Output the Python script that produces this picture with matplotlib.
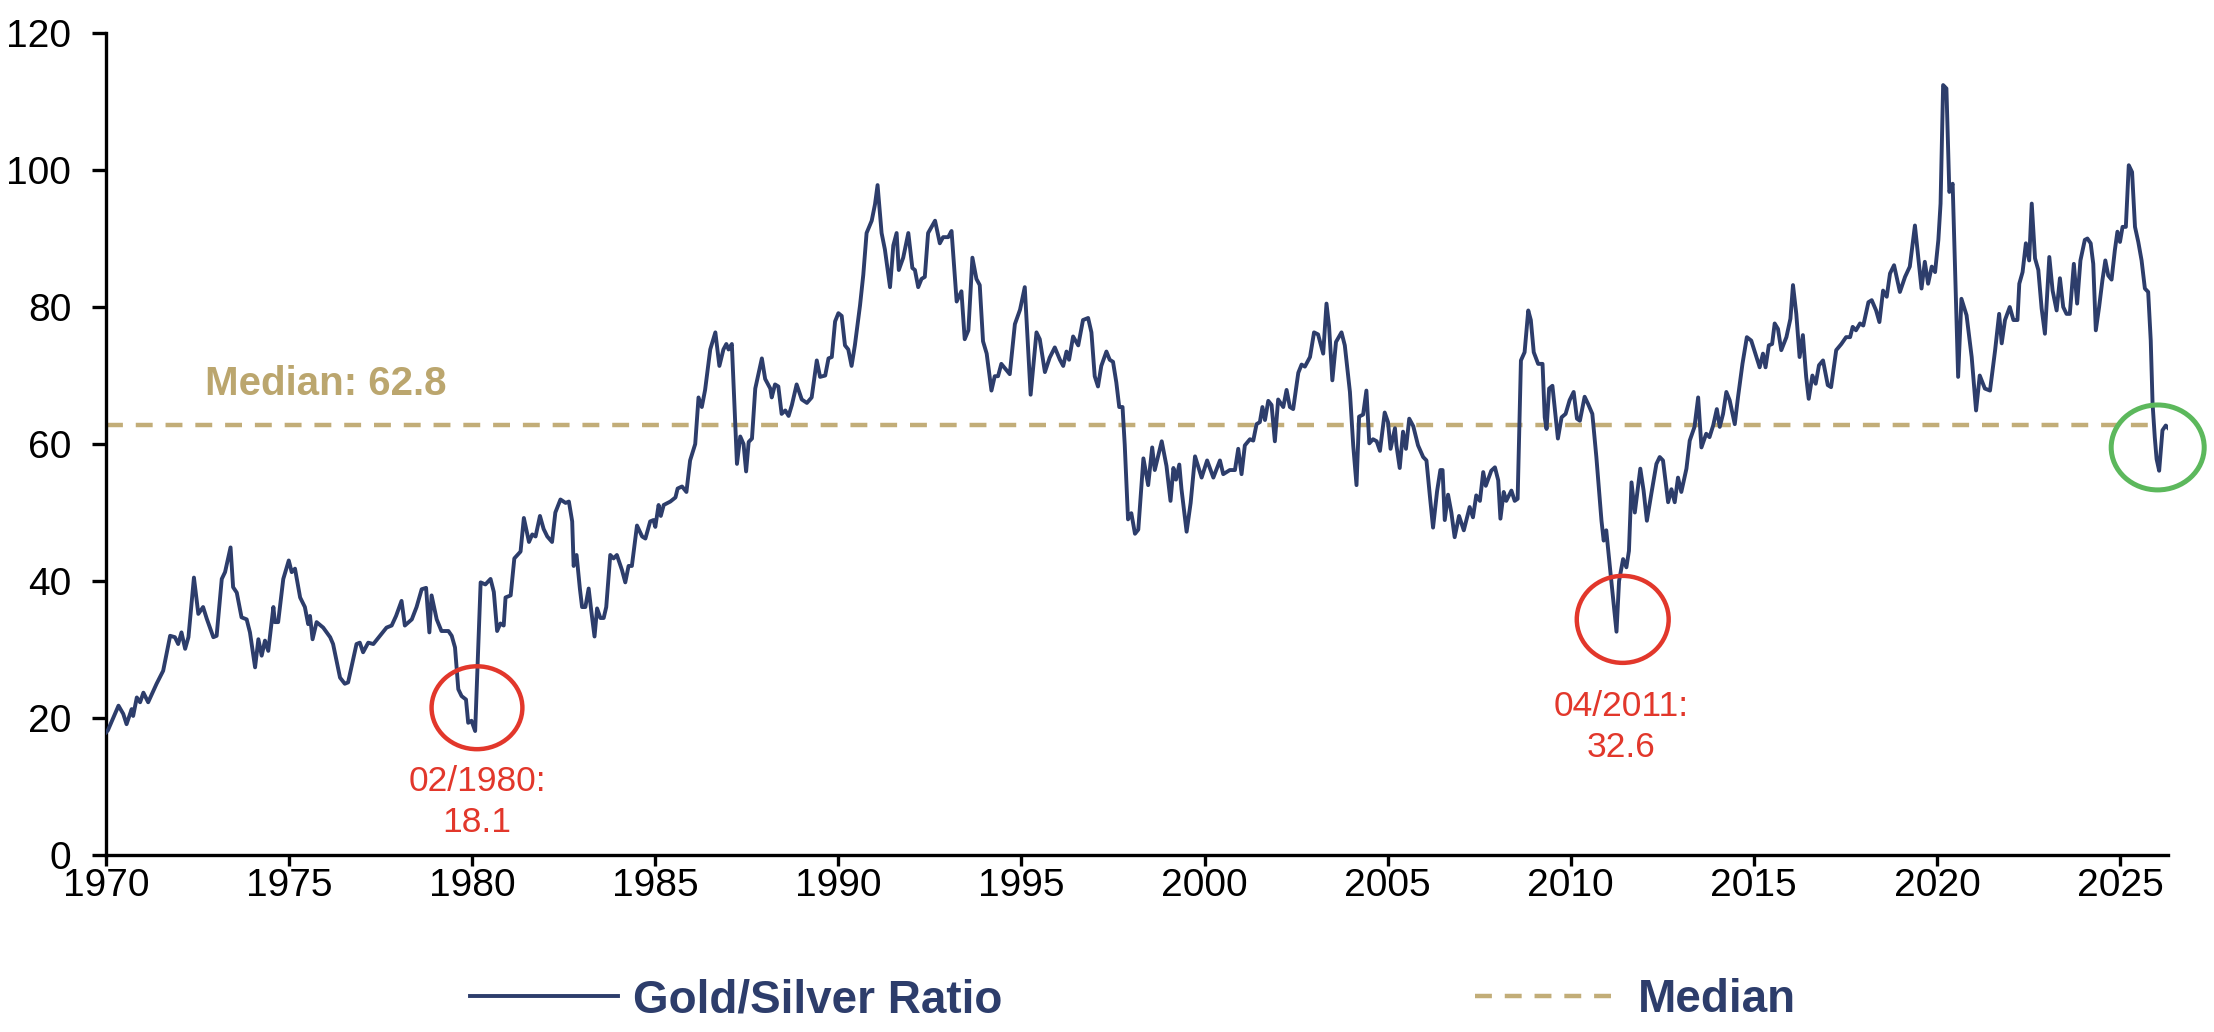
import matplotlib
matplotlib.use("Agg")
import matplotlib.pyplot as plt
from matplotlib.patches import Ellipse

# ---------------- data ----------------
dates = [
    1970.00, 1970.05, 1970.34, 1970.47, 1970.56, 1970.70, 1970.74, 1970.84, 1970.93, 1971.02,
    1971.15, 1971.38, 1971.56, 1971.75, 1971.88, 1971.97, 1972.06, 1972.16, 1972.25, 1972.40,
    1972.52, 1972.65, 1972.75, 1972.93, 1973.02, 1973.16, 1973.25, 1973.40, 1973.47, 1973.57,
    1973.70, 1973.84, 1973.93, 1974.07, 1974.16, 1974.25, 1974.34, 1974.43, 1974.57, 1974.61,
    1974.70, 1974.84, 1974.99, 1975.07, 1975.16, 1975.30, 1975.43, 1975.52, 1975.57, 1975.64,
    1975.75, 1975.93, 1976.12, 1976.20, 1976.39, 1976.52, 1976.61, 1976.75, 1976.84, 1976.93,
    1977.02, 1977.16, 1977.30, 1977.48, 1977.66, 1977.80, 1977.92, 1978.07, 1978.16, 1978.35,
    1978.48, 1978.62, 1978.74, 1978.83, 1978.89, 1979.03, 1979.16, 1979.35, 1979.44, 1979.53,
    1979.62, 1979.71, 1979.83, 1979.89, 1979.98, 1980.08,
    1980.23, 1980.36, 1980.50, 1980.59, 1980.68, 1980.77, 1980.86, 1980.91, 1981.05, 1981.15,
    1981.32, 1981.41, 1981.55, 1981.64, 1981.73, 1981.85, 1981.95, 1982.05, 1982.18, 1982.27,
    1982.41, 1982.55, 1982.64, 1982.73, 1982.77, 1982.85, 1982.94, 1983.00, 1983.09, 1983.18,
    1983.25, 1983.34, 1983.41, 1983.50, 1983.59, 1983.66, 1983.77, 1983.86, 1983.95, 1984.09,
    1984.18, 1984.27, 1984.36, 1984.50, 1984.64, 1984.73, 1984.86, 1984.95, 1985.00, 1985.09,
    1985.15, 1985.23, 1985.41, 1985.55, 1985.61, 1985.73, 1985.85, 1985.95, 1986.09, 1986.18,
    1986.27, 1986.36, 1986.50, 1986.64, 1986.75, 1986.86, 1986.94, 1987.00, 1987.09, 1987.23,
    1987.32, 1987.41, 1987.48, 1987.55, 1987.64, 1987.73, 1987.91, 1988.00, 1988.14, 1988.18,
    1988.27, 1988.36, 1988.45, 1988.55, 1988.64, 1988.73, 1988.86, 1989.00, 1989.14, 1989.27,
    1989.41, 1989.50, 1989.64, 1989.73, 1989.82, 1989.91, 1990.00,
    1990.09, 1990.18, 1990.27, 1990.36, 1990.45, 1990.59, 1990.68, 1990.77, 1990.91, 1991.00,
    1991.07, 1991.18, 1991.27, 1991.41, 1991.50, 1991.59, 1991.65, 1991.77, 1991.91, 1992.02,
    1992.09, 1992.18, 1992.27, 1992.36, 1992.45, 1992.64, 1992.77, 1992.86, 1993.00, 1993.09,
    1993.23, 1993.36, 1993.45, 1993.55, 1993.66, 1993.77, 1993.86, 1993.95, 1994.05, 1994.18,
    1994.27, 1994.36, 1994.45, 1994.68, 1994.82, 1994.96, 1995.09, 1995.25, 1995.41, 1995.50,
    1995.64, 1995.77, 1995.91, 1996.05, 1996.14, 1996.23, 1996.30, 1996.41, 1996.55, 1996.68,
    1996.82, 1996.91, 1997.00, 1997.09, 1997.18, 1997.32, 1997.41, 1997.50, 1997.59, 1997.67,
    1997.76, 1997.82, 1997.91, 1998.00, 1998.10, 1998.19, 1998.33, 1998.46, 1998.57, 1998.64,
    1998.83, 1998.96, 1999.07, 1999.15, 1999.22, 1999.31, 1999.37, 1999.51, 1999.62, 1999.74,
    1999.92, 2000.07, 2000.24, 2000.42, 2000.51, 2000.69, 2000.83, 2000.92, 2001.01, 2001.10,
    2001.24, 2001.33, 2001.42, 2001.51, 2001.58, 2001.65, 2001.74, 2001.83, 2001.92, 2002.01,
    2002.15, 2002.24, 2002.33, 2002.42, 2002.56, 2002.65, 2002.74, 2002.88, 2002.99, 2003.10,
    2003.24, 2003.33, 2003.40, 2003.49, 2003.59, 2003.74, 2003.83, 2003.97, 2004.06, 2004.15,
    2004.22, 2004.33, 2004.42, 2004.50, 2004.60, 2004.70, 2004.79, 2004.92, 2005.01, 2005.08,
    2005.20, 2005.24, 2005.33, 2005.42, 2005.50, 2005.59, 2005.70, 2005.83, 2005.97, 2006.06,
    2006.15, 2006.24, 2006.35, 2006.44, 2006.50, 2006.56, 2006.65, 2006.74, 2006.83, 2006.95,
    2007.08, 2007.24, 2007.33, 2007.42, 2007.52, 2007.61, 2007.68, 2007.83, 2007.93, 2008.02,
    2008.08, 2008.17, 2008.24, 2008.38, 2008.47, 2008.55, 2008.64, 2008.74, 2008.84, 2008.91,
    2008.99, 2009.11, 2009.23, 2009.29, 2009.34, 2009.41, 2009.50, 2009.65, 2009.75, 2009.86,
    2009.97, 2010.08, 2010.17, 2010.25, 2010.38, 2010.47, 2010.59, 2010.70, 2010.84, 2010.90,
    2010.97, 2011.08, 2011.25, 2011.32, 2011.43, 2011.52, 2011.59, 2011.66, 2011.75, 2011.90,
    2011.99, 2012.08, 2012.20, 2012.34, 2012.43, 2012.52, 2012.66, 2012.75, 2012.84, 2012.93,
    2013.02, 2013.16, 2013.25, 2013.38, 2013.48, 2013.57, 2013.70, 2013.79, 2013.89, 2013.99,
    2014.07, 2014.16, 2014.25, 2014.34, 2014.48, 2014.57, 2014.69, 2014.81, 2014.93, 2015.07,
    2015.16, 2015.25, 2015.32, 2015.41, 2015.50, 2015.57, 2015.66, 2015.75, 2015.89, 2016.00,
    2016.07, 2016.16, 2016.25, 2016.34, 2016.43, 2016.50, 2016.60, 2016.69, 2016.78, 2016.89,
    2017.02, 2017.11, 2017.25, 2017.39, 2017.52, 2017.63, 2017.70, 2017.79, 2017.90, 2017.99,
    2018.13, 2018.22, 2018.34, 2018.43, 2018.53, 2018.63, 2018.72, 2018.83, 2018.99, 2019.13,
    2019.26, 2019.40, 2019.49, 2019.58, 2019.67, 2019.76, 2019.86, 2019.95, 2020.04, 2020.10,
    2020.17, 2020.26, 2020.34, 2020.43, 2020.58, 2020.67, 2020.81, 2020.95, 2021.07, 2021.17,
    2021.31, 2021.45, 2021.59, 2021.70, 2021.77, 2021.86, 2021.99, 2022.09, 2022.20, 2022.25,
    2022.34, 2022.43, 2022.52, 2022.59, 2022.68, 2022.77, 2022.86, 2022.95, 2023.07, 2023.16,
    2023.27, 2023.36, 2023.45, 2023.54, 2023.63, 2023.74, 2023.83, 2023.92, 2024.04, 2024.11,
    2024.20, 2024.27, 2024.34, 2024.43, 2024.52, 2024.60, 2024.68, 2024.77, 2024.86, 2024.93,
    2025.00, 2025.07, 2025.16, 2025.24, 2025.33, 2025.41, 2025.50, 2025.59, 2025.68, 2025.77,
    2025.84, 2025.89, 2025.95, 2026.00, 2026.07, 2026.16, 2026.25, 2026.34,
]
ratio = [
    17.9, 18.2, 21.8, 20.6, 19.1, 21.3, 20.3, 23.0, 22.3, 23.7,
    22.3, 25.0, 26.9, 32.0, 31.8, 30.8, 32.5, 30.1, 31.8, 40.5,
    35.2, 36.2, 34.5, 31.8, 32.0, 40.3, 41.3, 44.9, 39.1, 38.3,
    34.7, 34.4, 32.5, 27.4, 31.5, 29.1, 31.3, 29.8, 36.2, 34.0,
    34.0, 40.3, 43.0, 41.3, 41.8, 37.6, 36.2, 33.7, 34.9, 31.5,
    34.0, 33.2, 31.8, 30.8, 25.9, 25.0, 25.2, 28.6, 30.8, 31.0,
    29.6, 31.0, 30.8, 32.0, 33.2, 33.5, 34.9, 37.1, 33.5, 34.4,
    36.2, 38.8, 39.0, 32.5, 37.9, 34.4, 32.7, 32.7, 32.0, 30.3,
    24.2, 23.2, 22.7, 19.3, 19.6, 18.1,
    39.8, 39.5, 40.3, 38.4, 32.7, 33.8, 33.5, 37.6, 37.9, 43.3,
    44.3, 49.2, 45.7, 46.8, 46.5, 49.5, 47.6, 46.5, 45.7, 50.0,
    51.9, 51.4, 51.6, 48.7, 42.2, 43.8, 38.9, 36.2, 36.2, 38.9,
    35.7, 31.9, 36.0, 34.6, 34.6, 36.2, 43.8, 43.3, 43.8, 41.6,
    39.8, 42.2, 42.2, 48.1, 46.5, 46.2, 48.7, 48.9, 47.9, 51.1,
    49.5, 51.1, 51.6, 52.2, 53.5, 53.8, 53.0, 57.6, 60.0, 66.8,
    65.4, 67.9, 73.8, 76.3, 71.4, 73.8, 74.6, 73.8, 74.6, 57.1,
    61.1, 60.0, 56.0, 60.3, 60.8, 68.1, 72.5, 69.5, 68.1, 66.8,
    68.7, 68.4, 64.4, 64.9, 64.1, 65.7, 68.7, 66.5, 66.0, 66.8,
    72.2, 69.8, 70.0, 72.5, 72.7, 77.9, 79.1,
    78.7, 74.4, 73.8, 71.4, 74.4, 80.2, 84.7, 90.8, 92.6, 95.0,
    97.8, 90.8, 88.4, 82.9, 89.0, 90.8, 85.4, 87.2, 90.8, 85.7,
    85.4, 82.9, 84.1, 84.4, 90.8, 92.6, 89.3, 90.2, 90.2, 91.1,
    80.8, 82.3, 75.3, 76.6, 87.2, 84.1, 83.2, 75.0, 73.2, 67.8,
    69.9, 69.9, 71.7, 70.2, 77.5, 79.6, 82.9, 67.2, 76.3, 75.3,
    70.5, 72.6, 74.1, 72.3, 71.4, 73.5, 72.3, 75.7, 74.4, 78.1,
    78.4, 76.3, 69.9, 68.4, 71.4, 73.5, 72.3, 72.0, 69.0, 65.4,
    65.4, 59.9, 49.0, 49.9, 46.9, 47.5, 57.9, 54.0, 59.5, 56.2,
    60.4, 56.8, 51.7, 56.5, 54.8, 57.0, 53.4, 47.2, 51.4, 58.2,
    55.1, 57.6, 55.1, 57.6, 55.6, 56.2, 56.2, 59.3, 55.6, 59.8,
    60.7, 60.5, 62.9, 63.2, 65.4, 63.5, 66.3, 65.7, 60.4, 66.5,
    65.4, 67.9, 65.4, 65.1, 70.4, 71.6, 71.3, 72.7, 76.3, 76.0,
    73.2, 80.5, 77.2, 69.3, 74.9, 76.3, 74.4, 67.6, 59.8, 54.0,
    64.0, 64.3, 67.8, 60.1, 60.7, 60.4, 59.0, 64.6, 63.2, 59.3,
    62.3, 59.8, 56.5, 61.8, 59.3, 63.7, 62.6, 59.8, 58.1, 57.6,
    52.6, 47.8, 53.1, 56.2, 56.2, 48.9, 52.6, 50.0, 46.4, 49.5,
    47.4, 50.8, 49.3, 52.5, 51.7, 55.9, 53.9, 56.1, 56.6, 54.7,
    49.1, 53.0, 51.7, 53.2, 51.7, 52.0, 72.2, 73.4, 79.5, 78.1,
    73.4, 71.7, 71.7, 63.9, 62.2, 68.1, 68.5, 60.8, 63.9, 64.4,
    66.4, 67.6, 63.7, 63.4, 66.9, 65.9, 64.4, 58.1, 48.8, 45.9,
    47.4, 41.5, 32.6, 40.0, 43.2, 42.0, 44.4, 54.4, 50.0, 56.4,
    53.2, 48.8, 52.7, 57.1, 58.1, 57.6, 51.5, 53.4, 51.5, 55.1,
    53.0, 56.4, 60.5, 62.5, 66.8, 59.5, 61.5, 61.0, 62.7, 65.1,
    62.5, 64.4, 67.6, 66.4, 62.9, 66.9, 71.7, 75.6, 75.1, 72.7,
    71.2, 73.2, 71.2, 74.4, 74.6, 77.6, 76.8, 73.7, 75.6, 78.3,
    83.2, 79.0, 72.7, 75.9, 69.8, 66.6, 70.0, 68.8, 71.5, 72.2,
    68.6, 68.3, 73.7, 74.6, 75.6, 75.6, 77.1, 76.6, 77.6, 77.3,
    80.7, 81.0, 79.5, 77.8, 82.4, 81.5, 84.9, 86.1, 82.2, 84.4,
    85.9, 91.9, 87.3, 82.7, 86.6, 83.4, 85.9, 85.1, 89.8, 95.1,
    112.4, 111.9, 96.8, 98.0, 69.8, 81.2, 78.8, 72.7, 64.9, 70.0,
    68.1, 67.8, 73.7, 79.0, 74.7, 78.1, 80.0, 78.1, 78.1, 83.4,
    85.1, 89.3, 86.8, 95.1, 87.1, 85.4, 79.8, 76.1, 87.3, 82.4,
    79.5, 84.2, 80.0, 79.0, 79.0, 86.3, 80.5, 86.8, 89.8, 90.0,
    89.3, 86.3, 76.6, 80.0, 83.9, 86.8, 84.6, 84.0, 88.3, 91.0,
    89.5, 91.7, 91.7, 100.7, 99.7, 91.7, 89.5, 86.8, 82.7, 82.2,
    75.1, 65.9, 61.0, 57.8, 56.1, 62.0, 62.7, 62.2,
]
median_value = 62.8
x_ticks = [1970, 1975, 1980, 1985, 1990, 1995, 2000, 2005, 2010, 2015, 2020, 2025]
y_ticks = [0, 20, 40, 60, 80, 100, 120]
series_label = "Gold/Silver Ratio"
median_label = "Median"
median_text = "Median: 62.8"
low_1980_text = "02/1980:\n18.1"
low_2011_text = "04/2011:\n32.6"

# ---------------- style ----------------
NAVY = "#2D3D6B"
TAN = "#C2AD78"
TAN_TEXT = "#BBA66E"
RED = "#E2372B"
GREEN = "#5CB85C"

plt.rcParams['font.family'] = ['Liberation Sans', 'DejaVu Sans']

fig = plt.figure(figsize=(22.14, 10.32), dpi=100)
ax = fig.add_axes([0.0479, 0.1715, 0.9313, 0.7965])

line, = ax.plot(dates, ratio, color=NAVY, lw=2.8, solid_joinstyle='round',
                label=series_label, zorder=3)
med, = ax.plot([dates[0], 2026.0], [median_value, median_value], color=TAN, lw=3.2,
               ls=(0, (3.8, 2.9)), label=median_label, zorder=2)

ax.set_xlim(1970, 2026.31)
ax.set_ylim(0, 120)
ax.set_xticks(x_ticks)
ax.set_yticks(y_ticks)
ax.set_xticklabels([str(t) for t in x_ticks])
ax.set_yticklabels([str(t) for t in y_ticks])

for s in ['top', 'right']:
    ax.spines[s].set_visible(False)
for s in ['left', 'bottom']:
    ax.spines[s].set_linewidth(2.4)
    ax.spines[s].set_color('black')
ax.tick_params(axis='both', direction='out', width=2.4, colors='black', labelsize=28)
ax.tick_params(axis='y', length=10, pad=15)
ax.tick_params(axis='x', length=8, pad=1.5)

# annotations
ax.text(1972.70, 67.1, median_text, color=TAN_TEXT, fontsize=29, fontweight='bold',
        ha='left', va='baseline')

ax.add_patch(Ellipse((1980.13, 21.5), width=2.48, height=12.1, fill=False,
                     edgecolor=RED, lw=3.2, zorder=4))
ax.text(1980.13, 13.1, low_1980_text, color=RED, fontsize=25.5, ha='center', va='top',
        linespacing=1.3)

ax.add_patch(Ellipse((2011.42, 34.4), width=2.51, height=12.7, fill=False,
                     edgecolor=RED, lw=3.2, zorder=4))
ax.text(2011.38, 24.1, low_2011_text, color=RED, fontsize=25.5, ha='center', va='top',
        linespacing=1.3)

ax.add_patch(Ellipse((2026.03, 59.5), width=2.54, height=12.4, fill=False,
                     edgecolor=GREEN, lw=3.6, zorder=4, clip_on=False))

leg = fig.legend(handles=[line, med], labels=[series_label, median_label],
                 loc='center', bbox_to_anchor=(0.5117, 0.031), ncol=2, frameon=False,
                 prop={'weight': 'bold', 'size': 33}, labelcolor=NAVY,
                 handlelength=3.23, handletextpad=0.33, columnspacing=10.3,
                 borderpad=0.0, borderaxespad=0.0)

fig.savefig("out.png", dpi=100)
